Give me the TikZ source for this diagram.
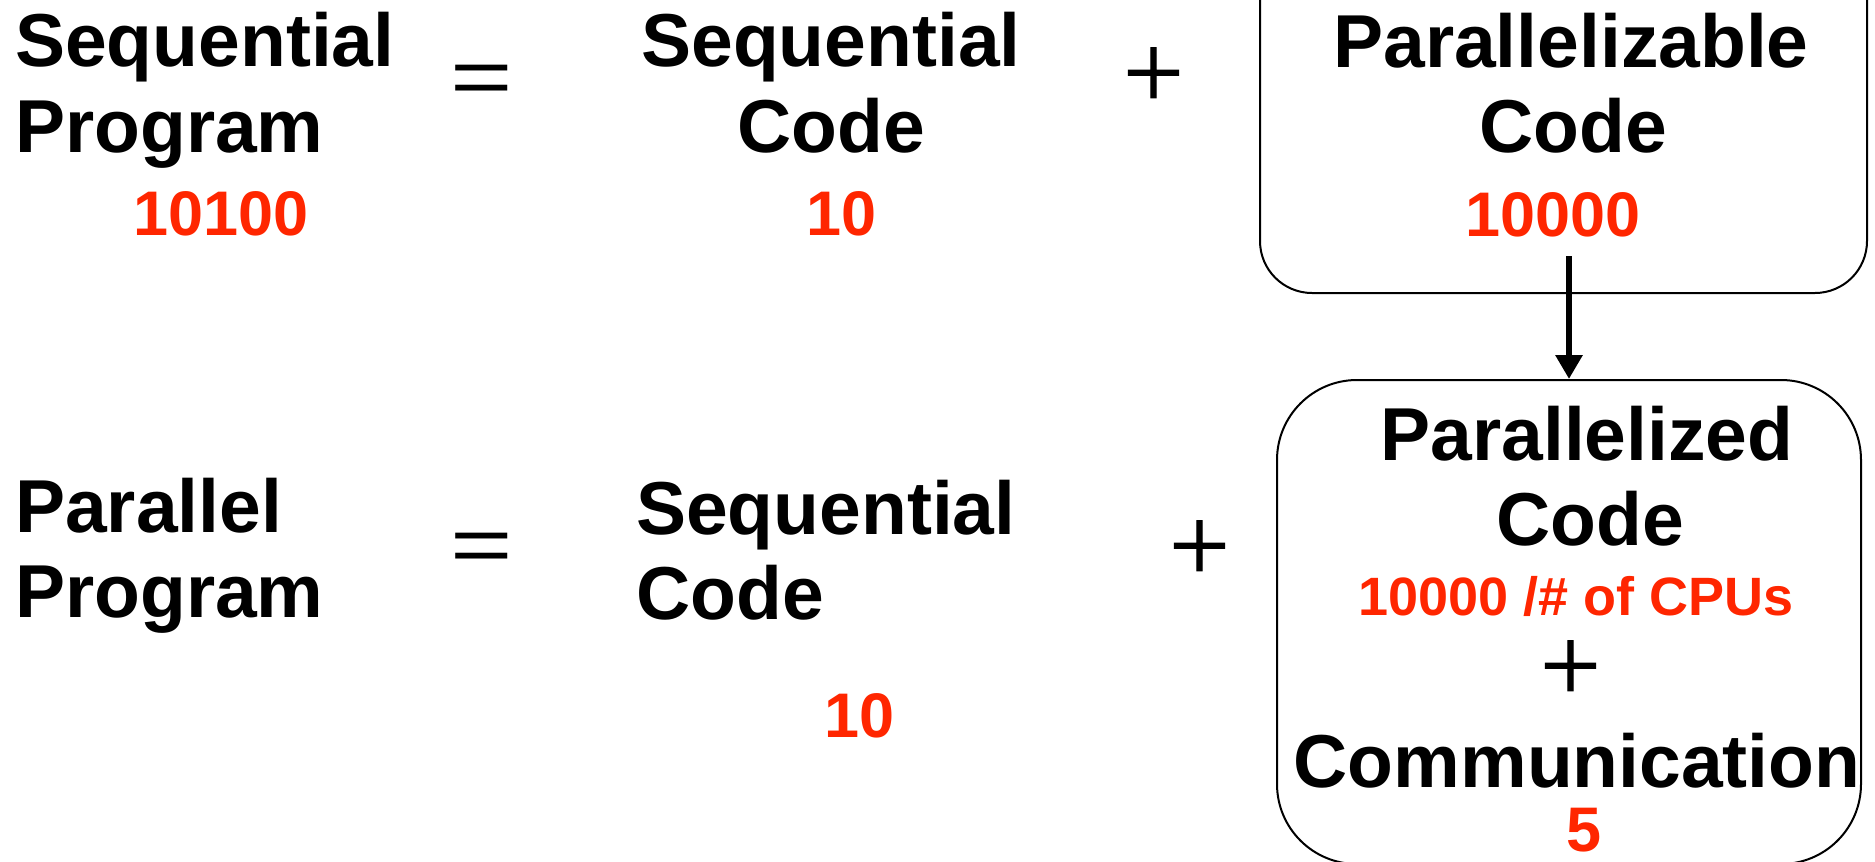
\documentclass[tikz,border=0pt]{standalone}
\usepackage{fontspec}
\setmainfont{Liberation Sans}
\newfontfamily\plusfont{Liberation Serif}[FakeBold=0.9]
\newfontfamily\eqfont{Liberation Sans}
\usetikzlibrary{arrows.meta}
\definecolor{numred}{RGB}{255,38,0}

\tikzset{
  lbl/.style={font=\fontsize{75}{85}\selectfont\bfseries, inner sep=0pt, anchor=base},
  num/.style={font=\fontsize{63}{70}\selectfont\bfseries, text=numred, inner sep=0pt, anchor=base},
  plussign/.style={font=\fontsize{108}{110}\selectfont\plusfont, inner sep=0pt, anchor=base},
  eqsign/.style={font=\fontsize{107}{110}\selectfont\eqfont, inner sep=0pt, anchor=base},
  roundbox/.style={draw, line width=2pt, inner sep=0pt},
  flow/.style={line width=6.5pt, -{Triangle[length=24pt,width=26pt]}},
}

\begin{document}
\begin{tikzpicture}[x=1pt, y=-1pt]
  \useasboundingbox (0,0) rectangle (1875,862);
  \clip (0,0) rectangle (1875,862);

  % boxes around the parallel part
  \node[roundbox, rounded corners=52pt, minimum width=607pt, minimum height=345pt] (boxA) at (1563.5,120.5) {};
  \node[roundbox, rounded corners=80pt, minimum width=584pt, minimum height=484pt] (boxB) at (1569,622) {};

  % first equation: sequential program
  \node[lbl, anchor=base west] (sp1) at (15,66) {Sequential};
  \node[lbl, anchor=base west] (sp2) at (15,152) {Program};
  \node[num] (sp3) at (221,235) {10100};
  \node[eqsign] (eq1) at (482,104.3) {\scalebox{1}[0.75]{=}};
  \node[lbl] (sc1) at (831,66) {Sequential};
  \node[lbl] (sc2) at (831,152) {Code};
  \node[num] (sc3) at (842,235) {10};
  \node[plussign] (pl1) at (1153.5,108.6) {+};
  \node[lbl] (pz1) at (1571,67) {Parallelizable};
  \node[lbl] (pz2) at (1573,152) {Code};
  \node[num] (pz3) at (1553,236) {10000};

  % second equation: parallel program
  \node[lbl, anchor=base west] (pp1) at (15,532) {Parallel};
  \node[lbl, anchor=base west] (pp2) at (15,617) {Program};
  \node[eqsign] (eq2) at (482,572.3) {\scalebox{1}[0.75]{=}};
  \node[lbl, anchor=base west] (bc1) at (636,534) {Sequential};
  \node[lbl, anchor=base west] (bc2) at (636,619) {Code};
  \node[num] (bc3) at (860,737) {10};
  \node[plussign] (pl2) at (1199.5,581.6) {+};
  \node[lbl] (pd1) at (1587,460) {Parallelized};
  \node[lbl] (pd2) at (1590,545) {Code};
  \node[num, font=\fontsize{54}{60}\selectfont\bfseries] (pd3) at (1576,615) {10000 /\# of CPUs};
  \node[plussign] (pl3) at (1570.5,701.6) {+};
  \node[lbl] (pd4) at (1577,787) {Communication};
  \node[num] (pd5) at (1584,851) {5};

  % parallelizable code becomes parallelized code
  \coordinate (arrowtop) at (1569,256);
  \draw[flow] (arrowtop) -- (boxB.north);
\end{tikzpicture}
\end{document}
